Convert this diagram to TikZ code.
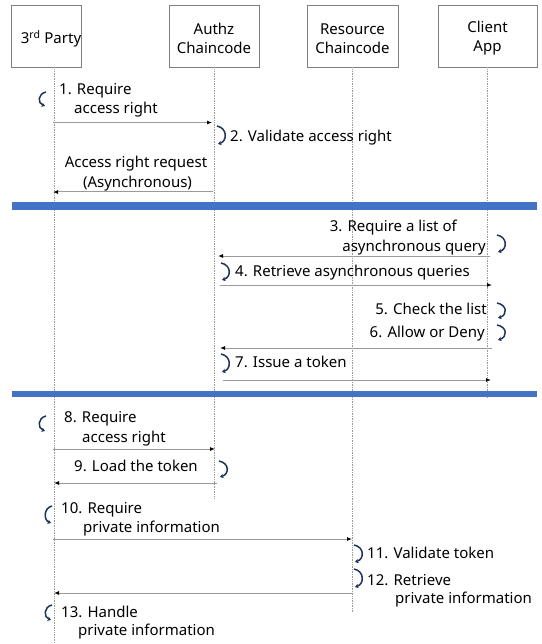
\documentclass[tikz,border=0pt]{standalone}
\usepackage{fontspec}
\setmainfont{Noto Sans}
\usetikzlibrary{arrows.meta}
\definecolor{barblue}{HTML}{4472C4}
\definecolor{loopnavy}{HTML}{1F3458}
\definecolor{msggray}{HTML}{9A9A9A}
\definecolor{boxgray}{HTML}{7F7F7F}
\tikzset{
  actor/.style={draw=boxgray, line width=0.9pt, rectangle, inner sep=0pt,
    minimum height=62pt},
  actortext/.style={inner sep=0pt, align=center, font=\fontsize{15}{19}\selectfont},
  txt/.style={inner sep=0pt, anchor=west, text height=12.5pt, text depth=2pt,
    font=\fontsize{15}{19}\selectfont},
  txtr/.style={txt, anchor=east},
  life/.style={draw=msggray, line width=0.7pt, densely dotted},
  msg/.style={draw=msggray, line width=1pt,
    -{Latex[length=5pt,width=4pt,color=black]}},
  selfloop/.style={draw=loopnavy, line width=1.5pt,
    -{Stealth[length=3.5pt,width=4.5pt]}},
  sepbar/.style={fill=barblue, draw=none}
}
% a "(" shaped self call: left x, top y, bottom y
\newcommand{\loopleft}[3]{%
  \draw[selfloop] (#1+6,#2) .. controls (#1-2.5,#2+2) and (#1-2.5,#3-3) .. (#1+5,#3);}
% a ")" shaped self call: left x, top y, bottom y
\newcommand{\loopright}[3]{%
  \draw[selfloop] (#1,#2) .. controls (#1+10.5,#2+2) and (#1+10.5,#3-3) .. (#1+1,#3);}
\begin{document}
\begin{tikzpicture}[x=1pt, y=-1pt]
\useasboundingbox (0,0) rectangle (541,644);
\fill[white] (0,0) rectangle (541,644);

% participants
\node[actor, minimum width=70pt] (p1) at (46.7,36) {};
\node[actor, minimum width=90pt] (p2) at (214,36) {};
\node[actor, minimum width=91pt] (p3) at (352.5,36) {};
\node[actor, minimum width=99pt] (p4) at (487.5,36) {};
\node[actortext] (p1t) at (51,38.5) {3\textsuperscript{rd} Party};
\node[actortext] (p2t) at (214,38.5) {Authz\\Chaincode};
\node[actortext] (p3t) at (352.5,38.5) {Resource\\Chaincode};
\node[actortext] (p4t) at (487.5,38.5) {Client\\App};

% lifeline ends
\coordinate (l1) at (54,644);
\coordinate (l2) at (214,498);
\coordinate (l3) at (352,613);
\coordinate (l4) at (487,398);
\draw[life] (p1.south -| l1) -- (l1);
\draw[life] (p2.south -| l2) -- (l2);
\draw[life] (p3.south -| l3) -- (l3);
\draw[life] (p4.south -| l4) -- (l4);

% phase separators
\fill[sepbar] (12,202) rectangle (537,210);
\fill[sepbar] (12,391) rectangle (537,397);

% message end points
\coordinate (a1) at (53,122.5);  \coordinate (b1) at (212,122.5);
\coordinate (a2) at (213,192);   \coordinate (b2) at (53,192);
\coordinate (a3) at (490,256);   \coordinate (b3) at (218,256);
\coordinate (a4) at (220,285);   \coordinate (b4) at (492,285);
\coordinate (a6) at (492,348);   \coordinate (b6) at (220,348);
\coordinate (a7) at (223,380);   \coordinate (b7) at (491,380);
\coordinate (a8) at (53,449);    \coordinate (b8) at (215,449);
\coordinate (a9) at (217,483);   \coordinate (b9) at (54,483);
\coordinate (a10) at (53,539);   \coordinate (b10) at (352,539);
\coordinate (a12) at (352,593);  \coordinate (b12) at (54,593);

\draw[msg] (a1) -- (b1);
\draw[msg] (a2) -- (b2);
\draw[msg] (a3) -- (b3);
\draw[msg] (a4) -- (b4);
\draw[msg] (a6) -- (b6);
\draw[msg] (a7) -- (b7);
\draw[msg] (a8) -- (b8);
\draw[msg] (a9) -- (b9);
\draw[msg] (a10) -- (b10);
\draw[msg] (a12) -- (b12);

% self calls
\loopleft{40}{92}{106}
\loopright{217}{126}{144}
\loopright{497}{235}{252}
\loopright{221}{263}{280}
\loopright{497}{303}{318}
\loopright{497}{325}{340}
\loopright{221}{354}{372}
\loopleft{40}{416}{431}
\loopright{219}{461}{477}
\loopleft{46}{506}{523}
\loopright{354}{545}{562}
\loopright{354}{569}{587}
\loopleft{46}{605}{620}

% labels
\node[txt] (t1a) at (59,89) {1. Require};
\node[txt] (t1b) at (74,108) {access right};
\node[txt] (t2) at (230,136) {2. Validate access right};
\node[txt, anchor=center] (tra) at (136,162) {Access right request};
\node[txt, anchor=center] (trb) at (137.5,182) {(Asynchronous)};
\node[txtr] (t3a) at (457,226) {3. Require a list of};
\node[txtr] (t3b) at (486,246) {asynchronous query};
\node[txt] (t4) at (235,271) {4. Retrieve asynchronous queries};
\node[txtr] (t5) at (487,309) {5. Check the list};
\node[txtr] (t6) at (485,332) {6. Allow or Deny};
\node[txt] (t7) at (235,362) {7. Issue a token};
\node[txt] (t8a) at (64,417) {8. Require};
\node[txt] (t8b) at (82,437) {access right};
\node[txt] (t9) at (74,466) {9. Load the token};
\node[txt] (t10a) at (61,508) {10. Require};
\node[txt] (t10b) at (83,527) {private information};
\node[txt] (t11) at (367,553) {11. Validate token};
\node[txt] (t12a) at (367,580) {12. Retrieve};
\node[txt] (t12b) at (395,598) {private information};
\node[txt] (t13a) at (61,612) {13. Handle};
\node[txt] (t13b) at (78,630) {private information};
\end{tikzpicture}
\end{document}
